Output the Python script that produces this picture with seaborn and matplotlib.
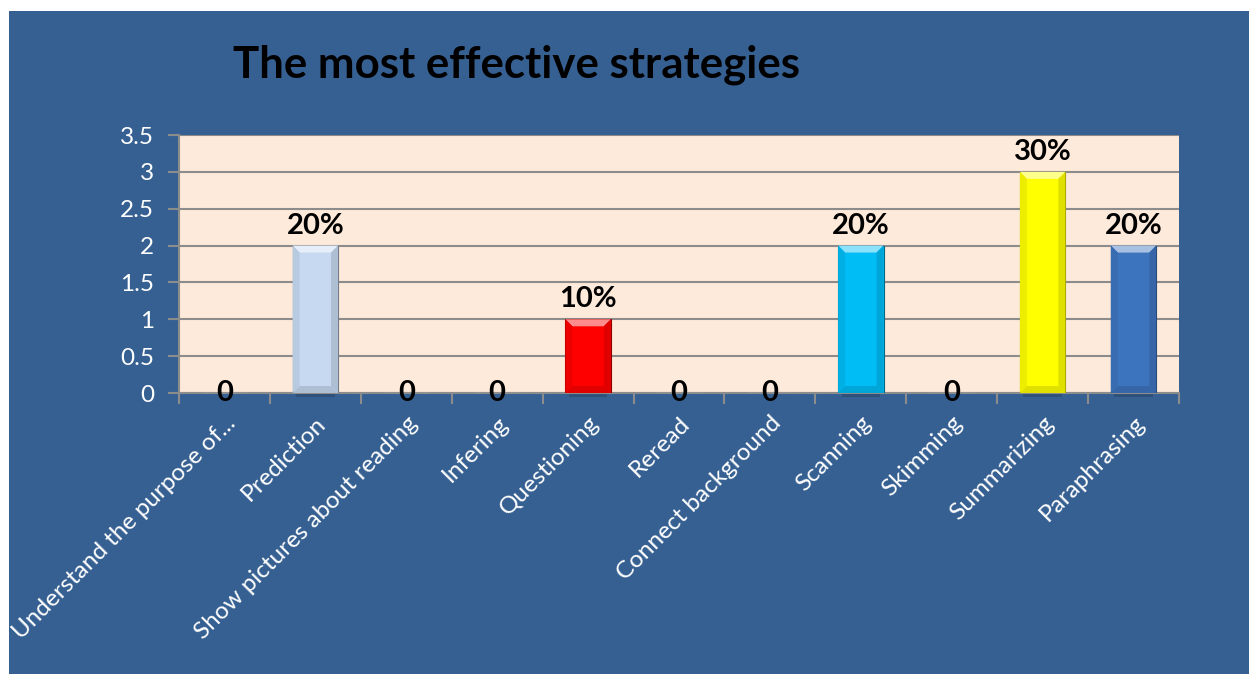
import matplotlib
matplotlib.use("Agg")
import matplotlib.pyplot as plt
import matplotlib.patches as mpatches
from matplotlib.colors import to_rgb
from matplotlib.ticker import MultipleLocator, FixedLocator
import seaborn as sns

# Strategy counts and the percentage shown above each bar
strategies = [
    "Understand the purpose of...",
    "Prediction",
    "Show pictures about reading",
    "Infering",
    "Questioning",
    "Reread",
    "Connect background",
    "Scanning",
    "Skimming",
    "Summarizing",
    "Paraphrasing",
]
counts = [0, 2, 0, 0, 1, 0, 0, 2, 0, 3, 2]
value_labels = ["0", "20%", "0", "0", "10%", "0", "0", "20%", "0", "30%", "20%"]
bar_colors = [
    "#C6D9F1", "#C6D9F1", "#C6D9F1", "#C6D9F1", "#FF0000", "#C6D9F1",
    "#C6D9F1", "#00BDF5", "#C6D9F1", "#FFFF00", "#3D74BE",
]

FRAME_BLUE = "#366092"
PLOT_BG = "#FDEADA"
GRID_GRAY = "#8C8C8C"


def shade(color, k):
    r, g, b = to_rgb(color)
    if k >= 1:
        t = k - 1
        return (r + (1 - r) * t, g + (1 - g) * t, b + (1 - b) * t)
    return (r * k, g * k, b * k)


sns.set_theme(style="white")
plt.rcParams["font.family"] = ["Lato", "DejaVu Sans"]

fig = plt.figure(figsize=(12.49, 6.74), dpi=100, facecolor="white")
fig.patches.append(mpatches.Rectangle((9 / 1249, 0), 1, 1 - 11 / 674,
                                      transform=fig.transFigure,
                                      facecolor=FRAME_BLUE, edgecolor="none",
                                      zorder=-10))

ax = fig.add_axes([179 / 1249, 1 - 393 / 674, 1000 / 1249, 258 / 674])
ax.set_facecolor(PLOT_BG)

palette = dict(zip(strategies, bar_colors))
sns.barplot(x=strategies, y=counts, hue=strategies, palette=palette,
            width=0.5, legend=False, ax=ax, saturation=1,
            linewidth=0.8, zorder=3)

ax.set_ylim(0, 3.5)
ax.set_xlim(-0.5, len(strategies) - 0.5)

# bevelled bar faces: light top facet, darker sides and bottom
px_x = (len(strategies)) / 1000.0
px_y = 3.5 / 258.0
bw, bh = 7 * px_x, 7 * px_y
for patch in list(ax.patches):
    h = patch.get_height()
    if h <= 0:
        continue
    col = patch.get_facecolor()[:3]
    patch.set_edgecolor(shade(col, 0.55))
    x0, w = patch.get_x(), patch.get_width()
    facets = [
        ([(x0, h), (x0 + w, h), (x0 + w - bw, h - bh), (x0 + bw, h - bh)], 1.55),
        ([(x0, 0), (x0 + w, 0), (x0 + w - bw, bh), (x0 + bw, bh)], 0.88),
        ([(x0, 0), (x0 + bw, bh), (x0 + bw, h - bh), (x0, h)], 0.93),
        ([(x0 + w, 0), (x0 + w - bw, bh), (x0 + w - bw, h - bh), (x0 + w, h)], 0.88),
    ]
    for pts, k in facets:
        ax.add_patch(mpatches.Polygon(pts, closed=True, facecolor=shade(col, k),
                                      edgecolor="none", zorder=3.5))
    # soft drop shadow under the bar
    ax.add_patch(mpatches.Rectangle((x0 + bw * 0.5, -4 * px_y), w - bw, 4 * px_y,
                                    facecolor="#1f3550", alpha=0.35,
                                    edgecolor="none", zorder=2.5, clip_on=False))

ax.yaxis.set_major_locator(MultipleLocator(0.5))
ax.set_yticks(ax.get_yticks())
ax.set_yticklabels([f"{t:g}" for t in ax.get_yticks()])
ax.set_ylim(0, 3.5)
ax.grid(axis="y", color=GRID_GRAY, linewidth=1.5, zorder=1)
ax.set_axisbelow(True)

for side in ("top", "right"):
    ax.spines[side].set_visible(False)
for side in ("left", "bottom"):
    ax.spines[side].set_color(GRID_GRAY)
    ax.spines[side].set_linewidth(1.5)

ax.tick_params(axis="y", which="major", length=8, width=1.5, color=GRID_GRAY,
               labelcolor="white", labelsize=17.5, left=True, pad=10)
ax.tick_params(axis="x", which="major", length=0, labelcolor="white",
               labelsize=17.5, pad=14)
ax.xaxis.set_minor_locator(FixedLocator([i - 0.5 for i in range(len(strategies) + 1)]))
ax.tick_params(axis="x", which="minor", length=8, width=1.5, color=GRID_GRAY,
               bottom=True, direction="out")

ax.set_xlabel("")
ax.set_ylabel("")
for lbl in ax.get_xticklabels():
    lbl.set_rotation(45)
    lbl.set_ha("right")
    lbl.set_va("top")
    lbl.set_rotation_mode("anchor")

# value labels: zeros sit on the axis line, percentages above the bars
for i, (v, txt) in enumerate(zip(counts, value_labels)):
    if v == 0:
        ax.text(i, 0, txt, ha="center", va="center", fontsize=21,
                fontweight="bold", color="black", zorder=5, clip_on=False)
    else:
        ax.text(i, v + 0.16, txt, ha="center", va="baseline", fontsize=21,
                fontweight="bold", color="black", zorder=5)

fig.text(233 / 1249, 1 - 65 / 674, "The most effective strategies",
         ha="left", va="center", fontsize=31.5, fontweight="bold", color="black")

fig.savefig("out.png", dpi=100, facecolor="white")
